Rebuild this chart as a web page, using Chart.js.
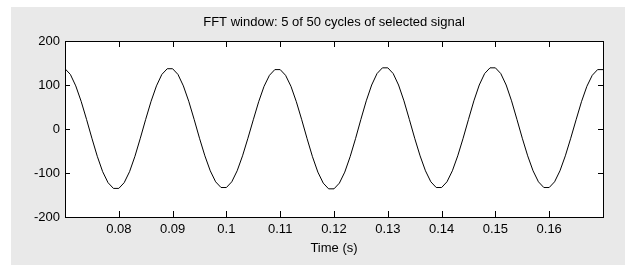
<!DOCTYPE html>
<html>
<head>
<meta charset="utf-8">
<title>FFT window</title>
<script src="https://cdn.jsdelivr.net/npm/chart.js@4/dist/chart.umd.min.js"></script>
<style>
  html, body { margin: 0; padding: 0; background: #fff; }
  #wrap { width: 625px; height: 265px; position: relative; }
</style>
</head>
<body>
<div id="wrap"><canvas id="fft"></canvas></div>
<script>
'use strict';

// ── Data ──────────────────────────────────────────────────────────────────────

const TIMES = [
  0.070, 0.071, 0.072, 0.073, 0.074, 0.075, 0.076, 0.077, 0.078, 0.079,
  0.080, 0.081, 0.082, 0.083, 0.084, 0.085, 0.086, 0.087, 0.088, 0.089,
  0.090, 0.091, 0.092, 0.093, 0.094, 0.095, 0.096, 0.097, 0.098, 0.099,
  0.100, 0.101, 0.102, 0.103, 0.104, 0.105, 0.106, 0.107, 0.108, 0.109,
  0.110, 0.111, 0.112, 0.113, 0.114, 0.115, 0.116, 0.117, 0.118, 0.119,
  0.120, 0.121, 0.122, 0.123, 0.124, 0.125, 0.126, 0.127, 0.128, 0.129,
  0.130, 0.131, 0.132, 0.133, 0.134, 0.135, 0.136, 0.137, 0.138, 0.139,
  0.140, 0.141, 0.142, 0.143, 0.144, 0.145, 0.146, 0.147, 0.148, 0.149,
  0.150, 0.151, 0.152, 0.153, 0.154, 0.155, 0.156, 0.157, 0.158, 0.159,
  0.160, 0.161, 0.162, 0.163, 0.164, 0.165, 0.166, 0.167, 0.168, 0.169,
  0.170,
];

const SIGNAL = [
   137,  124,   98,   63,   22,  -21,  -62,  -97, -122, -135,
  -135, -122,  -97,  -62,  -21,   22,   63,   98,  124,  137,
   137,  124,   98,   63,   22,  -21,  -61,  -95, -120, -133,
  -133, -120,  -95,  -61,  -21,   21,   62,   97,  122,  135,
   135,  122,   97,   62,   21,  -22,  -63,  -98, -123, -136,
  -136, -123,  -98,  -63,  -22,   22,   64,  100,  126,  139,
   139,  126,  100,   64,   22,  -21,  -61,  -95, -120, -133,
  -133, -120,  -95,  -61,  -21,   22,   64,  100,  126,  139,
   139,  126,  100,   64,   22,  -21,  -61,  -95, -120, -133,
  -133, -120,  -95,  -61,  -21,   21,   62,   97,  122,  135,
   135,
];

const X_TICKS = [0.08, 0.09, 0.1, 0.11, 0.12, 0.13, 0.14, 0.15, 0.16];
const Y_TICKS = [-200, -100, 0, 100, 200];

const TITLE   = 'FFT window: 5 of 50 cycles of selected signal';
const X_LABEL = 'Time (s)';

(function () {

  const FONT   = { family: "'Liberation Sans', Arial, Helvetica, sans-serif", size: 13 };
  const FIGURE = '#e9e9e9';

  // ── Figure background + axes box with inward ticks (matlab look) ─────────────

  const matlabAxes = {
    id: 'matlabAxes',
    beforeDraw(chart) {
      const { ctx, chartArea: a } = chart;
      ctx.save();
      ctx.fillStyle = '#fff';
      ctx.fillRect(0, 0, chart.width, chart.height);
      ctx.fillStyle = FIGURE;
      ctx.fillRect(11, 7, chart.width - 11, chart.height - 7);
      ctx.fillStyle = '#fff';
      ctx.fillRect(a.left, a.top, a.right - a.left, a.bottom - a.top);
      ctx.restore();
    },
    afterDraw(chart) {
      const { ctx, chartArea: a, scales: { x, y } } = chart;
      ctx.save();
      ctx.strokeStyle = '#000';
      ctx.lineWidth = 1;
      ctx.beginPath();
      X_TICKS.forEach(v => {
        const px = Math.round(x.getPixelForValue(v)) + 0.5;
        ctx.moveTo(px, a.bottom); ctx.lineTo(px, a.bottom - 6);
        ctx.moveTo(px, a.top);    ctx.lineTo(px, a.top + 6);
      });
      Y_TICKS.forEach(v => {
        const py = Math.round(y.getPixelForValue(v)) + 0.5;
        ctx.moveTo(a.left, py);  ctx.lineTo(a.left + 5, py);
        ctx.moveTo(a.right, py); ctx.lineTo(a.right - 5, py);
      });
      ctx.stroke();
      ctx.strokeRect(Math.round(a.left) + 0.5, Math.round(a.top) + 0.5,
                     Math.round(a.right - a.left), Math.round(a.bottom - a.top));
      ctx.restore();
    },
  };

  new Chart(document.getElementById('fft'), {
    type: 'line',
    data: {
      datasets: [{
        data: TIMES.map((t, i) => ({ x: t, y: SIGNAL[i] })),
        borderColor: '#000',
        borderWidth: 1,
        pointRadius: 0,
        tension: 0,
        fill: false,
      }],
    },
    options: {
      responsive: true,
      maintainAspectRatio: false,
      animation: false,
      layout: { padding: { top: 0, right: 22, bottom: 0, left: 0 } },
      plugins: {
        legend: { display: false },
        tooltip: { enabled: false },
        title: {
          display: true,
          text: TITLE,
          color: '#000',
          fullSize: false,
          font: { ...FONT, weight: 'normal' },
          padding: { top: 15, bottom: 10.4 },
        },
      },
      scales: {
        x: {
          type: 'linear',
          min: 0.07,
          max: 0.17,
          afterBuildTicks: s => { s.ticks = X_TICKS.map(v => ({ value: v })); },
          afterFit: s => { s.height = 48; },
          grid: { display: false, drawTicks: false },
          border: { display: false },
          ticks: { color: '#000', font: FONT, padding: 5, maxRotation: 0, callback: v => String(v) },
          title: { display: true, text: X_LABEL, color: '#000', font: FONT, padding: { top: 0, bottom: 9 } },
        },
        y: {
          min: -200,
          max: 200,
          afterBuildTicks: s => { s.ticks = Y_TICKS.map(v => ({ value: v })); },
          afterFit: s => { s.width = 65; },
          grid: { display: false, drawTicks: false },
          border: { display: false },
          ticks: { color: '#000', font: FONT, padding: 5, callback: v => String(v) },
        },
      },
    },
    plugins: [matlabAxes],
  });

})();
</script>
</body>
</html>
